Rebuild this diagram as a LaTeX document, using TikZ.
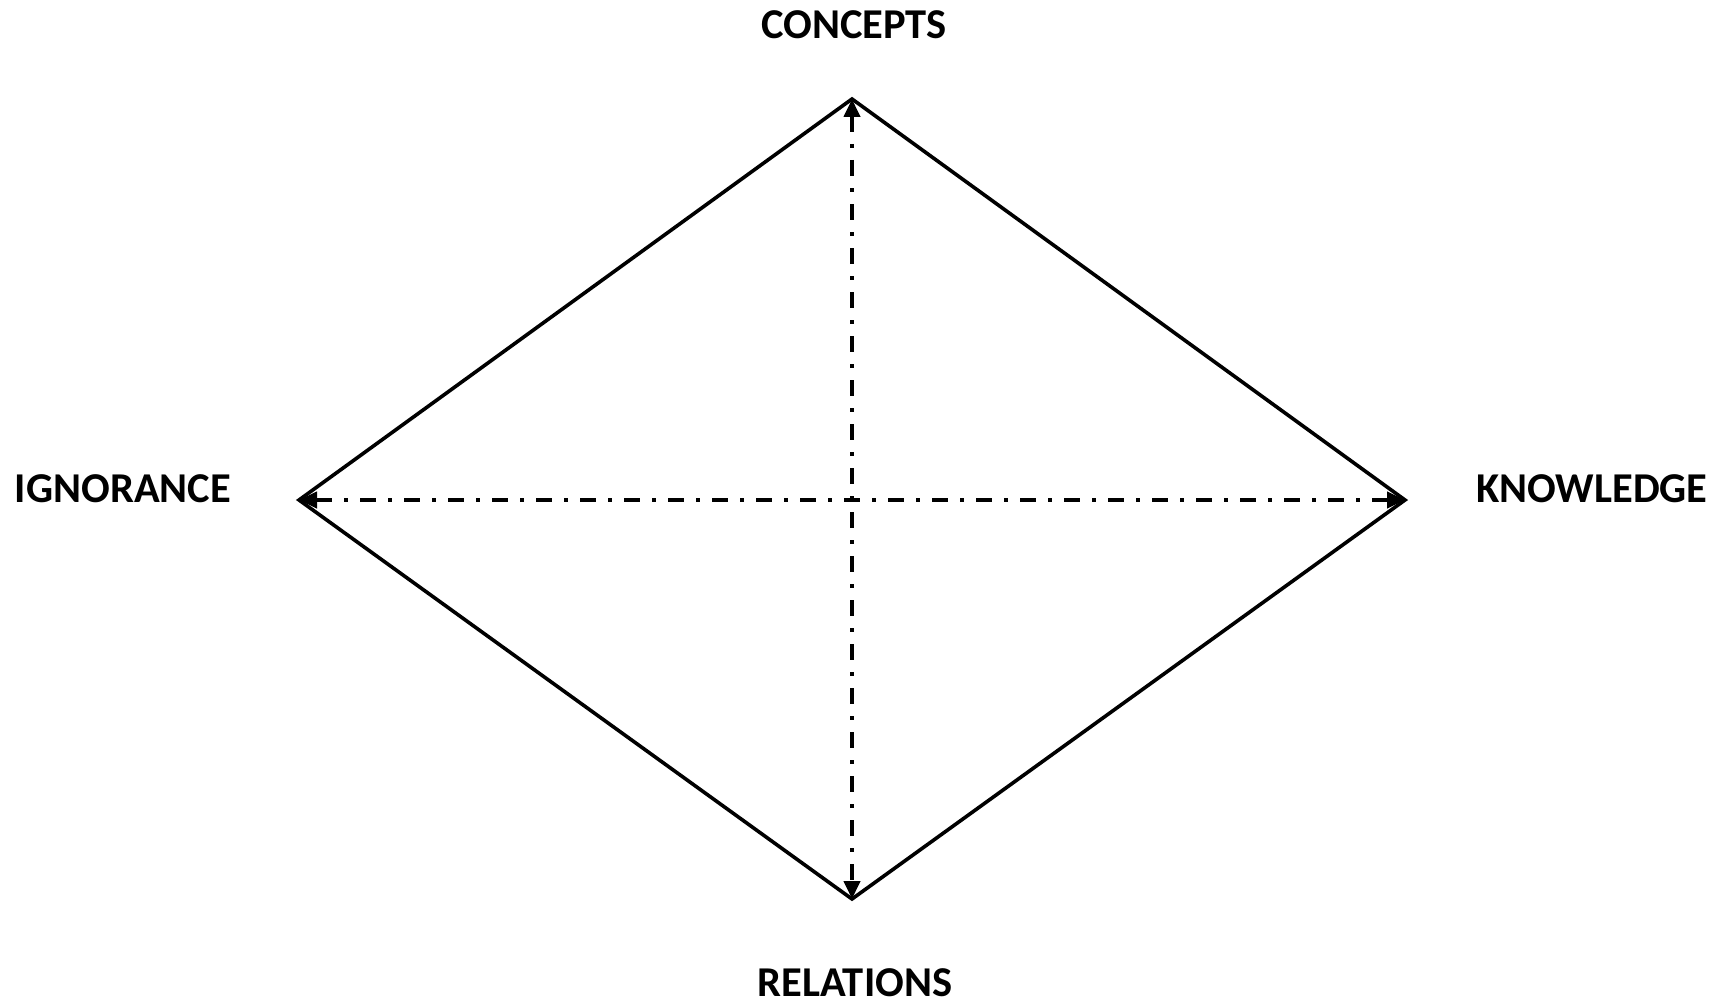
\documentclass[tikz,border=0pt]{standalone}
\usepackage{fontspec}
\setmainfont{Carlito}
\usetikzlibrary{arrows.meta}

\begin{document}
\begin{tikzpicture}[x=1pt,y=-1pt,
  lbl/.style={font=\fontsize{42.5}{44}\selectfont\bfseries,inner sep=0pt,anchor=center},
  edge/.style={line width=3.6pt,line join=miter},
  axis/.style={{Triangle[length=18pt,width=16pt]}-{Triangle[length=18pt,width=16pt]},
               line width=4pt,dash pattern=on 16pt off 12pt on 4pt off 12pt}]
\useasboundingbox (0,0) rectangle (1724,1006);
%%
%% Corners of the diamond
\coordinate (top)    at ( 852,  99);
\coordinate (bottom) at ( 852, 899);
\coordinate (left)   at ( 299, 500);
\coordinate (right)  at (1405, 500);
%%
%% Labels
\node[lbl](concepts)  at ( 854,  25) {CONCEPTS};
\node[lbl](relations) at ( 855, 983) {RELATIONS};
\node[lbl](ignorance) at ( 123, 489) {IGNORANCE};
\node[lbl](knowledge) at (1592, 489) {KNOWLEDGE};
%%
%% Diamond outline
\draw[edge] (top) -- (right) -- (bottom) -- (left) -- cycle;
%%
%% Dash-dot axes
\draw[axis] (left) -- (right);
\draw[axis] (top) -- (bottom);
\end{tikzpicture}
\end{document}
